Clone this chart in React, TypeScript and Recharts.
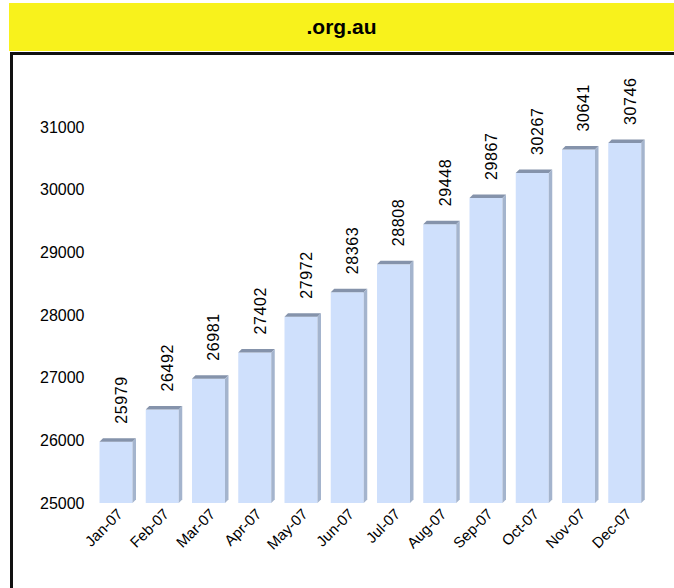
import React from 'react';
import { BarChart, Bar, XAxis, YAxis, LabelList } from 'recharts';

const months = ['Jan-07', 'Feb-07', 'Mar-07', 'Apr-07', 'May-07', 'Jun-07', 'Jul-07', 'Aug-07', 'Sep-07', 'Oct-07', 'Nov-07', 'Dec-07'];
const counts = [25979, 26492, 26981, 27402, 27972, 28363, 28808, 29448, 29867, 30267, 30641, 30746];
const yTicks = [25000, 26000, 27000, 28000, 29000, 30000, 31000];

const data = months.map((m, i) => ({ month: m, value: counts[i] }));

const FONT = '"Liberation Sans", Arial, sans-serif';
const DEPTH = 3.5;

const Bar3D = (props: any) => {
  const { x, y, width: w, height: h } = props;
  const d = DEPTH;
  return (
    <g>
      <rect x={x} y={y} width={w} height={h} fill="#cfe0fc" />
      <polygon points={`${x},${y} ${x + d},${y - d} ${x + w + d},${y - d} ${x + w},${y}`} fill="#8593ab" />
      <polygon points={`${x + w},${y} ${x + w + d},${y - d} ${x + w + d},${y + h - d} ${x + w},${y + h}`} fill="#a4b4cd" />
    </g>
  );
};

const ValueLabel = (props: any) => {
  const { x, y, width, value } = props;
  const lx = x + width / 2 + 11;
  const ly = y - 18;
  return (
    <text x={lx} y={ly} textAnchor="start" fontSize={16} letterSpacing={0.6} fontFamily={FONT} fill="#000" transform={`rotate(-90 ${lx} ${ly})`}>
      {value}
    </text>
  );
};

const XTick = (props: any) => {
  const { x, y, payload } = props;
  const tx = x + 8;
  const ty = y + 4;
  return (
    <text x={tx} y={ty} textAnchor="end" fontSize={15} fontFamily={FONT} fill="#000" transform={`rotate(-45 ${tx} ${ty})`}>
      {payload.value}
    </text>
  );
};

export default function App() {
  return (
    <div style={{ position: 'absolute', left: 0, top: 0, width: 674, height: 588, background: '#fff', overflow: 'hidden' }}>
      <div style={{ position: 'absolute', left: 9, top: 3, width: 665, height: 48, background: '#f8f21c', display: 'flex', alignItems: 'center', justifyContent: 'center', fontFamily: FONT, fontWeight: 'bold', fontSize: 21, color: '#000' }}>
        .org.au
      </div>
      <div style={{ position: 'absolute', left: 10, top: 52, width: 700, height: 600, borderLeft: '3px solid #111', borderTop: '3px solid #111', boxSizing: 'border-box' }} />
      <div style={{ position: 'absolute', left: 0, top: 0 }}>
        <BarChart width={674} height={588} data={data} margin={{ top: 127, right: 26.5, bottom: 35, left: 0 }}>
          <XAxis dataKey="month" height={50} axisLine={false} tickLine={false} interval={0} tick={<XTick />} />
          <YAxis domain={[25000, 31000]} ticks={yTicks} width={92.5} axisLine={false} tickLine={false} tick={{ fontSize: 16, fontFamily: FONT, fill: '#000' }} />
          <Bar dataKey="value" barSize={33} shape={<Bar3D />} isAnimationActive={false}>
            <LabelList dataKey="value" content={<ValueLabel />} />
          </Bar>
        </BarChart>
      </div>
    </div>
  );
}
